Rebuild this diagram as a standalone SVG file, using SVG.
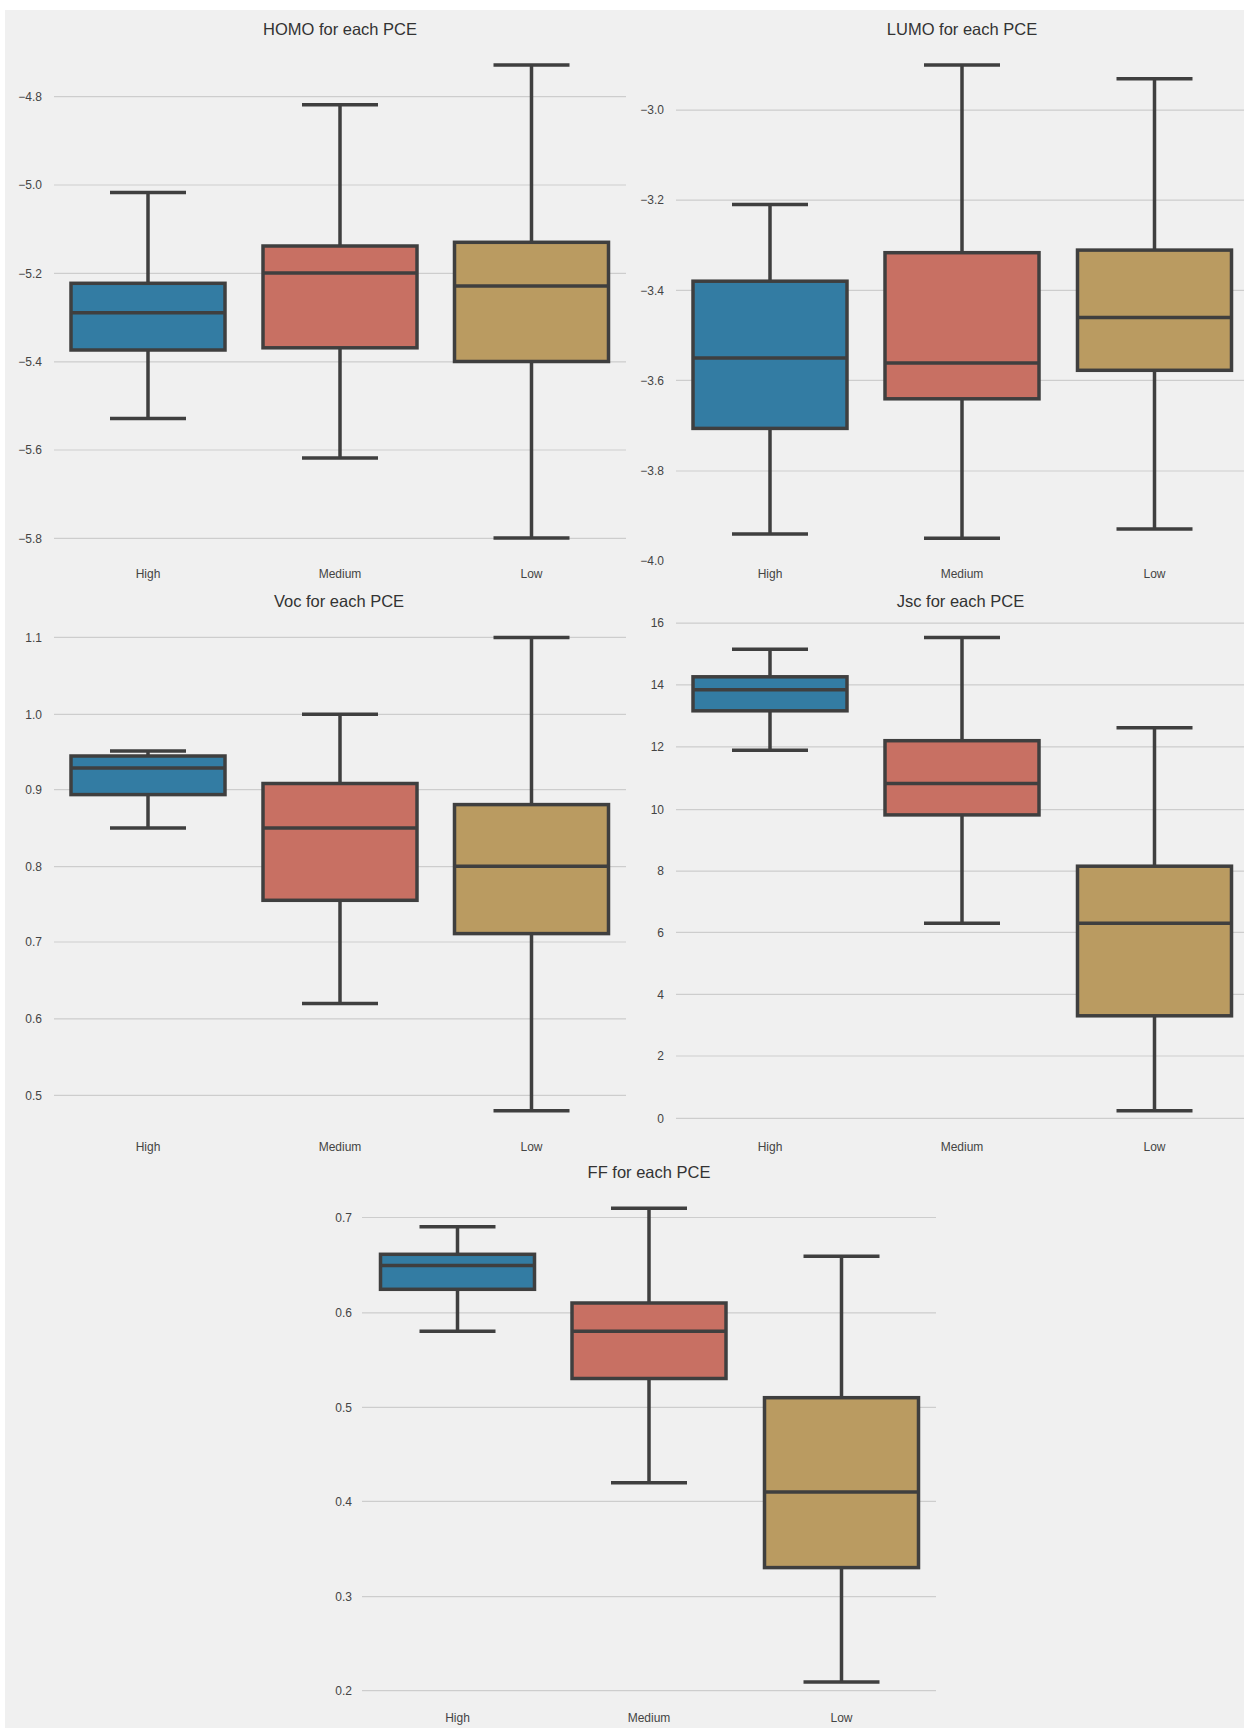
<svg xmlns="http://www.w3.org/2000/svg" width="1244" height="1728" viewBox="0 0 1244 1728">
<style>
.grid{stroke:#cdcdcd;stroke-width:1.2}
.wh{stroke:#3f3f3f;stroke-width:3.5;fill:none}
.bx{stroke:#3f3f3f;stroke-width:3.5}
.b1{fill:#337ca3}.b2{fill:#c87063}.b3{fill:#ba9b61}
.tk{font-family:"Liberation Sans",Arial,sans-serif;font-size:12px;fill:#444}
.yl{text-anchor:end}
.xl{text-anchor:middle}
.tt{font-family:"Liberation Sans",Arial,sans-serif;font-size:16.5px;fill:#333;text-anchor:middle}
</style>
<rect x="0" y="0" width="1244" height="1728" fill="#ffffff"/>
<rect x="5" y="10" width="1239" height="1718" fill="#f0f0f0"/>

<g id="panel-homo">
<text class="tt" x="340" y="34.5">HOMO for each PCE</text>
<g class="grid">
<line x1="54" x2="626" y1="96.6" y2="96.6"/><line x1="54" x2="626" y1="185" y2="185"/><line x1="54" x2="626" y1="273.3" y2="273.3"/><line x1="54" x2="626" y1="361.8" y2="361.8"/><line x1="54" x2="626" y1="450" y2="450"/><line x1="54" x2="626" y1="538.4" y2="538.4"/>
</g>
<g class="tk yl">
<text x="42" y="100.8">−4.8</text><text x="42" y="189.2">−5.0</text><text x="42" y="277.5">−5.2</text><text x="42" y="366">−5.4</text><text x="42" y="454.2">−5.6</text><text x="42" y="542.6">−5.8</text>
</g>
<g class="tk xl"><text x="148" y="578.3">High</text><text x="340" y="578.3">Medium</text><text x="531.5" y="578.3">Low</text></g>
<g id="homo-high">
<path class="wh" d="M148 283.3V192.4M148 350V418.4M110 192.4H186M110 418.4H186"/>
<rect class="bx b1" x="71" y="283.3" width="154" height="66.7"/><line class="wh" x1="71" x2="225" y1="312.7" y2="312.7"/>
</g>
<g id="homo-medium">
<path class="wh" d="M340 246V104.7M340 347.8V458M302 104.7H378M302 458H378"/>
<rect class="bx b2" x="263" y="246" width="154" height="101.8"/><line class="wh" x1="263" x2="417" y1="273" y2="273"/>
</g>
<g id="homo-low">
<path class="wh" d="M531.5 242.3V65.1M531.5 361.5V538M493.5 65.1H569.5M493.5 538H569.5"/>
<rect class="bx b3" x="454.5" y="242.3" width="154" height="119.2"/><line class="wh" x1="454.5" x2="608.5" y1="286" y2="286"/>
</g>
</g>

<g id="panel-lumo">
<text class="tt" x="962" y="34.5">LUMO for each PCE</text>
<g class="grid">
<line x1="676" x2="1244" y1="110.2" y2="110.2"/><line x1="676" x2="1244" y1="200.1" y2="200.1"/><line x1="676" x2="1244" y1="290.4" y2="290.4"/><line x1="676" x2="1244" y1="380.3" y2="380.3"/><line x1="676" x2="1244" y1="471" y2="471"/>
</g>
<g class="tk yl">
<text x="664" y="114.4">−3.0</text><text x="664" y="204.3">−3.2</text><text x="664" y="294.6">−3.4</text><text x="664" y="384.5">−3.6</text><text x="664" y="475.2">−3.8</text><text x="664" y="564.9">−4.0</text>
</g>
<g class="tk xl"><text x="770" y="578.3">High</text><text x="962" y="578.3">Medium</text><text x="1154.5" y="578.3">Low</text></g>
<g id="lumo-high">
<path class="wh" d="M770 281.2V204.6M770 428.4V533.9M732 204.6H808M732 533.9H808"/>
<rect class="bx b1" x="693" y="281.2" width="154" height="147.2"/><line class="wh" x1="693" x2="847" y1="358.1" y2="358.1"/>
</g>
<g id="lumo-medium">
<path class="wh" d="M962 252.7V65.1M962 398.8V538.3M924 65.1H1000M924 538.3H1000"/>
<rect class="bx b2" x="885" y="252.7" width="154" height="146.1"/><line class="wh" x1="885" x2="1039" y1="363" y2="363"/>
</g>
<g id="lumo-low">
<path class="wh" d="M1154.5 250.1V78.8M1154.5 370.3V529M1116.5 78.8H1192.5M1116.5 529H1192.5"/>
<rect class="bx b3" x="1077.5" y="250.1" width="154" height="120.2"/><line class="wh" x1="1077.5" x2="1231.5" y1="317.4" y2="317.4"/>
</g>
</g>

<g id="panel-voc">
<text class="tt" x="339" y="606.5">Voc for each PCE</text>
<g class="grid">
<line x1="54" x2="626" y1="637.4" y2="637.4"/><line x1="54" x2="626" y1="714.3" y2="714.3"/><line x1="54" x2="626" y1="789.7" y2="789.7"/><line x1="54" x2="626" y1="866.6" y2="866.6"/><line x1="54" x2="626" y1="942" y2="942"/><line x1="54" x2="626" y1="1018.9" y2="1018.9"/><line x1="54" x2="626" y1="1095.4" y2="1095.4"/>
</g>
<g class="tk yl">
<text x="42" y="641.6">1.1</text><text x="42" y="718.5">1.0</text><text x="42" y="793.9">0.9</text><text x="42" y="870.8">0.8</text><text x="42" y="946.2">0.7</text><text x="42" y="1023.1">0.6</text><text x="42" y="1099.6">0.5</text>
</g>
<g class="tk xl"><text x="148" y="1151">High</text><text x="340" y="1151">Medium</text><text x="531.5" y="1151">Low</text></g>
<g id="voc-high">
<path class="wh" d="M148 756V751M148 794.6V828M110 751H186M110 828H186"/>
<rect class="bx b1" x="71" y="756" width="154" height="38.6"/><line class="wh" x1="71" x2="225" y1="767.9" y2="767.9"/>
</g>
<g id="voc-medium">
<path class="wh" d="M340 783.5V714.3M340 900.3V1003.6M302 714.3H378M302 1003.6H378"/>
<rect class="bx b2" x="263" y="783.5" width="154" height="116.8"/><line class="wh" x1="263" x2="417" y1="828" y2="828"/>
</g>
<g id="voc-low">
<path class="wh" d="M531.5 804.6V637.4M531.5 933.6V1110.8M493.5 637.4H569.5M493.5 1110.8H569.5"/>
<rect class="bx b3" x="454.5" y="804.6" width="154" height="129"/><line class="wh" x1="454.5" x2="608.5" y1="866.2" y2="866.2"/>
</g>
</g>

<g id="panel-jsc">
<text class="tt" x="960.5" y="606.5">Jsc for each PCE</text>
<g class="grid">
<line x1="676" x2="1244" y1="623.2" y2="623.2"/><line x1="676" x2="1244" y1="684.8" y2="684.8"/><line x1="676" x2="1244" y1="746.8" y2="746.8"/><line x1="676" x2="1244" y1="809.6" y2="809.6"/><line x1="676" x2="1244" y1="871.2" y2="871.2"/><line x1="676" x2="1244" y1="932.4" y2="932.4"/><line x1="676" x2="1244" y1="994.4" y2="994.4"/><line x1="676" x2="1244" y1="1056" y2="1056"/><line x1="676" x2="1244" y1="1118.4" y2="1118.4"/>
</g>
<g class="tk yl">
<text x="664" y="627.4">16</text><text x="664" y="689">14</text><text x="664" y="751">12</text><text x="664" y="813.8">10</text><text x="664" y="875.4">8</text><text x="664" y="936.6">6</text><text x="664" y="998.6">4</text><text x="664" y="1060.2">2</text><text x="664" y="1122.6">0</text>
</g>
<g class="tk xl"><text x="770" y="1151">High</text><text x="962" y="1151">Medium</text><text x="1154.5" y="1151">Low</text></g>
<g id="jsc-high">
<path class="wh" d="M770 676.8V649.2M770 710.8V750.3M732 649.2H808M732 750.3H808"/>
<rect class="bx b1" x="693" y="676.8" width="154" height="34"/><line class="wh" x1="693" x2="847" y1="689.8" y2="689.8"/>
</g>
<g id="jsc-medium">
<path class="wh" d="M962 740.7V637.4M962 814.9V923.2M924 637.4H1000M924 923.2H1000"/>
<rect class="bx b2" x="885" y="740.7" width="154" height="74.2"/><line class="wh" x1="885" x2="1039" y1="783.5" y2="783.5"/>
</g>
<g id="jsc-low">
<path class="wh" d="M1154.5 866.2V727.7M1154.5 1015.8V1110.8M1116.5 727.7H1192.5M1116.5 1110.8H1192.5"/>
<rect class="bx b3" x="1077.5" y="866.2" width="154" height="149.6"/><line class="wh" x1="1077.5" x2="1231.5" y1="923.2" y2="923.2"/>
</g>
</g>

<g id="panel-ff">
<text class="tt" x="649" y="1178">FF for each PCE</text>
<g class="grid">
<line x1="362" x2="936" y1="1217.5" y2="1217.5"/><line x1="362" x2="936" y1="1312.9" y2="1312.9"/><line x1="362" x2="936" y1="1407.3" y2="1407.3"/><line x1="362" x2="936" y1="1501.3" y2="1501.3"/><line x1="362" x2="936" y1="1596.7" y2="1596.7"/><line x1="362" x2="936" y1="1690.7" y2="1690.7"/>
</g>
<g class="tk yl">
<text x="352" y="1221.7">0.7</text><text x="352" y="1317.1">0.6</text><text x="352" y="1411.5">0.5</text><text x="352" y="1505.5">0.4</text><text x="352" y="1600.9">0.3</text><text x="352" y="1694.9">0.2</text>
</g>
<g class="tk xl"><text x="457.5" y="1722">High</text><text x="649" y="1722">Medium</text><text x="841.5" y="1722">Low</text></g>
<g id="ff-high">
<path class="wh" d="M457.5 1254.3V1226.7M457.5 1289.3V1331.3M419.5 1226.7H495.5M419.5 1331.3H495.5"/>
<rect class="bx b1" x="380.5" y="1254.3" width="154" height="35"/><line class="wh" x1="380.5" x2="534.5" y1="1265.4" y2="1265.4"/>
</g>
<g id="ff-medium">
<path class="wh" d="M649 1303V1208.2M649 1378.5V1482.8M611 1208.2H687M611 1482.8H687"/>
<rect class="bx b2" x="572" y="1303" width="154" height="75.5"/><line class="wh" x1="572" x2="726" y1="1331.3" y2="1331.3"/>
</g>
<g id="ff-low">
<path class="wh" d="M841.5 1397.7V1256.2M841.5 1567.6V1681.9M803.5 1256.2H879.5M803.5 1681.9H879.5"/>
<rect class="bx b3" x="764.5" y="1397.7" width="154" height="169.9"/><line class="wh" x1="764.5" x2="918.5" y1="1492" y2="1492"/>
</g>
</g>
</svg>
